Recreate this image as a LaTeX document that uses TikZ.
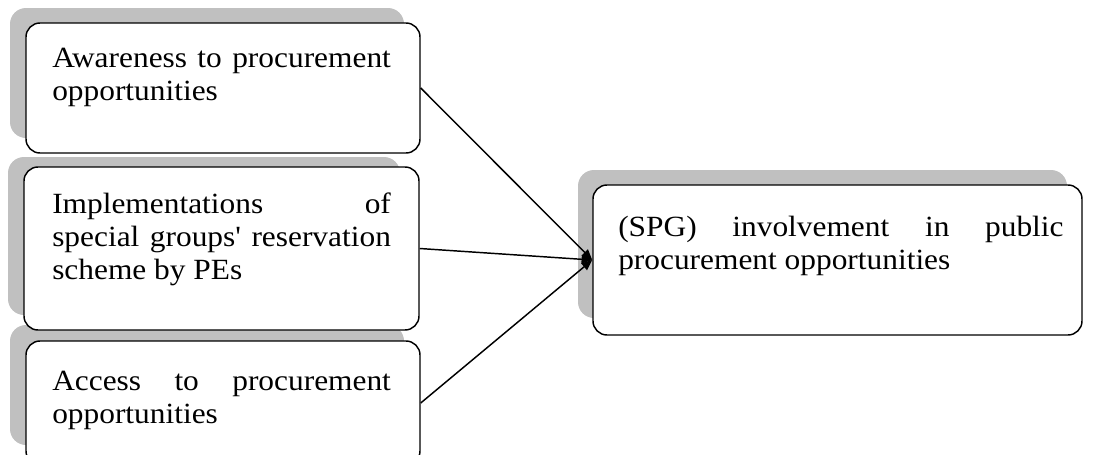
\documentclass[tikz,border=0pt]{standalone}
\usepackage{fontspec}
\setmainfont{Liberation Serif}[FakeStretch=1.07, Ligatures=TeXOff]
\usetikzlibrary{arrows.meta,fit}
\tolerance=10000
\hbadness=10000
\hyphenpenalty=10000
\exhyphenpenalty=10000
\definecolor{shadowgray}{HTML}{C0C0C0}
\tikzset{
  shadowbox/.style={fill=shadowgray, rounded corners=12pt},
  framebox/.style={draw=black, line width=1.1pt, fill=white,
    rounded corners=10.5pt, inner sep=0pt},
  label text/.style={inner sep=0pt, anchor=base west, align=justify,
    font=\fontsize{22}{25}\selectfont},
  link/.style={draw=black, line width=1.1pt,
    -{Triangle[length=8pt,width=6.5pt]}}
}
\begin{document}
\begin{tikzpicture}[x=0.75pt, y=-0.75pt]
  \useasboundingbox (0,0) rectangle (1100,454);

  % grey offset shadows behind the boxes
  \fill[shadowbox] (10,8) rectangle (404,138);
  \fill[shadowbox] (8,157) rectangle (400,315);
  \fill[shadowbox] (10,325) rectangle (404,445);
  \fill[shadowbox] (578,170) rectangle (1067,318);

  % framed boxes
  \coordinate (a1) at (26,23);   \coordinate (a2) at (420,153);
  \coordinate (c1) at (24,167);  \coordinate (c2) at (419,330);
  \coordinate (d1) at (26,341);  \coordinate (d2) at (420,465);
  \coordinate (e1) at (593,185); \coordinate (e2) at (1082,335);
  \node[framebox, fit=(a1)(a2)] (b1) {};
  \node[framebox, fit=(c1)(c2)] (b2) {};
  \node[framebox, fit=(d1)(d2)] (b3) {};
  \node[framebox, fit=(e1)(e2)] (b4) {};

  % box texts
  \node[label text, text width=254pt] (t1) at (52,67)
    {Awareness to procurement opportunities};
  \node[label text, text width=254pt] (t2) at (52,213)
    {Implementations of\linebreak special groups' reservation scheme by PEs};
  \node[label text, text width=254pt] (t3) at (52,390)
    {Access to procurement\linebreak opportunities};
  \node[label text, text width=334pt] (t4) at (618,236)
    {(SPG) involvement in public procurement opportunities};

  % connectors
  \draw[link] (b1.east) -- (b4.west);
  \draw[link] (b2.east) -- (b4.west);
  \draw[link] (b3.east) -- (b4.west);
\end{tikzpicture}
\end{document}
